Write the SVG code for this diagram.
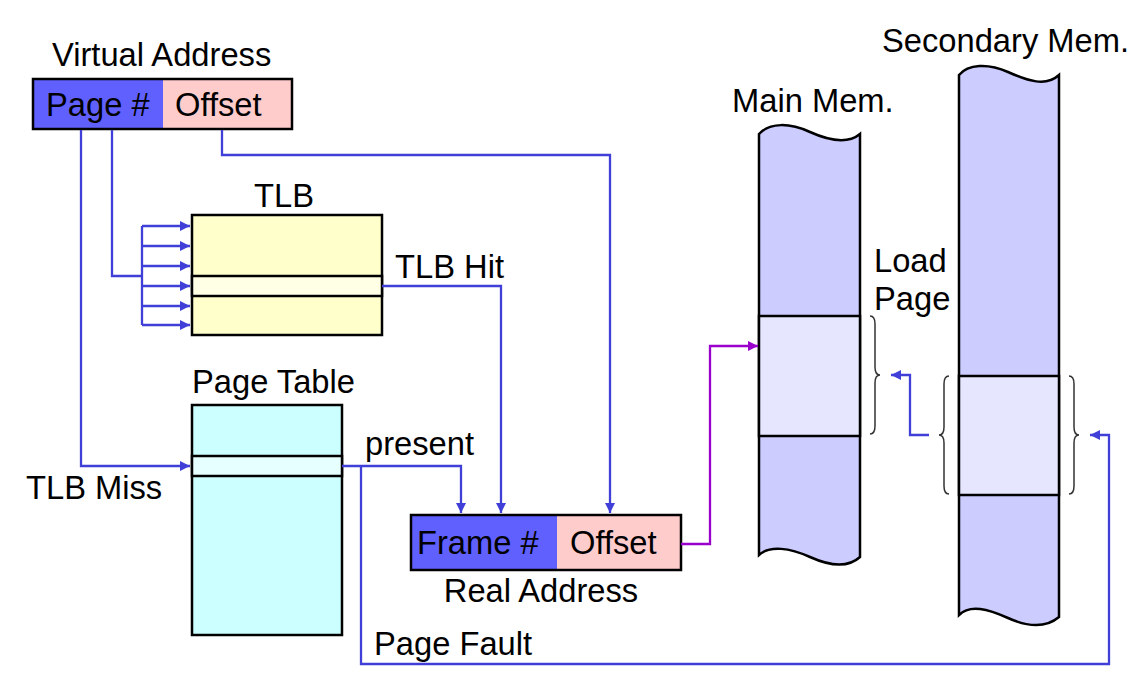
<svg xmlns="http://www.w3.org/2000/svg" width="1135" height="686" viewBox="0 0 1135 686">
<style>
text{font-family:"Liberation Sans",Arial,sans-serif;font-size:32.7px;fill:#000}
.box{stroke:#000;stroke-width:2.5}
.ln{fill:none;stroke:#4040d8;stroke-width:2.3}
.pl{fill:none;stroke:#9900cc;stroke-width:2.3}
.br{fill:none;stroke:#333;stroke-width:1.5}
</style>
<defs>
<marker id="ab" viewBox="0 0 10 10" refX="10" refY="5" markerWidth="11" markerHeight="10" markerUnits="userSpaceOnUse" orient="auto"><path d="M0,0 L10,5 L0,10 Z" fill="#4040d8"/></marker>
<marker id="ap" viewBox="0 0 10 10" refX="10" refY="5" markerWidth="11" markerHeight="10" markerUnits="userSpaceOnUse" orient="auto"><path d="M0,0 L10,5 L0,10 Z" fill="#9900cc"/></marker>
</defs>
<rect width="1135" height="686" fill="#fff"/>

<g id="virtual-address">
<text x="52" y="66">Virtual Address</text>
<rect x="33" y="79" width="130" height="50" fill="#6060ff"/>
<rect x="163" y="79" width="129" height="50" fill="#ffcccc"/>
<rect x="33" y="79" width="259" height="50" fill="none" class="box"/>
<text x="46" y="116">Page #</text>
<text x="175" y="116">Offset</text>
</g>

<g id="tlb">
<text x="284" y="207" text-anchor="middle">TLB</text>
<rect x="192" y="215" width="190" height="120" fill="#ffffcc" class="box"/>
<rect x="192" y="276" width="190" height="20" fill="#ffffe6" class="box"/>
</g>

<g id="page-table">
<text x="192" y="393">Page Table</text>
<rect x="192" y="405" width="150" height="230" fill="#ccffff" class="box"/>
<rect x="192" y="456" width="150" height="20" fill="#e6ffff" class="box"/>
</g>

<g id="real-address">
<rect x="411" y="515" width="146" height="55" fill="#6060ff"/>
<rect x="557" y="515" width="124" height="55" fill="#ffcccc"/>
<rect x="411" y="515" width="270" height="55" fill="none" class="box"/>
<text x="417" y="554">Frame #</text>
<text x="570" y="554">Offset</text>
<text x="541" y="602" text-anchor="middle">Real Address</text>
</g>

<g id="main-mem">
<text x="732" y="112">Main Mem.</text>
<path d="M759,134 C770,122 790,123 810,132 C830,141 848,144 860,134 L860,557 C848,568 830,566 810,557 C790,548 770,545 759,555 Z" fill="#ccccff" class="box"/>
<rect x="759" y="316" width="101" height="120" fill="#e6e6ff" class="box"/>
<path class="br" d="M870,316 q5,0 5,8 v43 q0,8 5,8 q-5,0 -5,8 v43 q0,8 -5,8"/>
</g>

<g id="secondary-mem">
<text x="882" y="52">Secondary Mem.</text>
<path d="M959,75 C968,64 988,63 1008,72 C1028,81 1046,87 1059,75 L1059,617 C1046,628 1028,627 1008,618 C988,609 970,604 959,615 Z" fill="#ccccff" class="box"/>
<rect x="959" y="376" width="100" height="119" fill="#e6e6ff" class="box"/>
<path class="br" d="M949,376 q-5,0 -5,8 v43 q0,8 -5,8 q5,0 5,8 v43 q0,8 5,8"/>
<path class="br" d="M1069,376 q5,0 5,8 v43 q0,8 5,8 q-5,0 -5,8 v43 q0,8 -5,8"/>
</g>

<g id="labels">
<text x="874" y="272">Load</text>
<text x="874" y="310">Page</text>
<text x="395" y="278">TLB Hit</text>
<text x="365" y="455">present</text>
<text x="26" y="499">TLB Miss</text>
<text x="374" y="655">Page Fault</text>
</g>

<g id="connectors">
<path class="ln" d="M81,130 V466 H190" marker-end="url(#ab)"/>
<path class="ln" d="M112,130 V276 H142"/>
<path class="ln" d="M142,226 V325"/>
<path class="ln" d="M142,226 H190" marker-end="url(#ab)"/>
<path class="ln" d="M142,246 H190" marker-end="url(#ab)"/>
<path class="ln" d="M142,266 H190" marker-end="url(#ab)"/>
<path class="ln" d="M142,286 H190" marker-end="url(#ab)"/>
<path class="ln" d="M142,306 H190" marker-end="url(#ab)"/>
<path class="ln" d="M142,325 H190" marker-end="url(#ab)"/>
<path class="ln" d="M222,130 V155 H610 V513" marker-end="url(#ab)"/>
<path class="ln" d="M382,286 H501 V513" marker-end="url(#ab)"/>
<path class="ln" d="M342,466 H461 V513" marker-end="url(#ab)"/>
<path class="ln" d="M361,466 V664 H1109 V435 H1090" marker-end="url(#ab)"/>
<path class="ln" d="M929,435 H910 V375 H891" marker-end="url(#ab)"/>
<path class="pl" d="M681,544 H710 V346 H758" marker-end="url(#ap)"/>
</g>
</svg>
